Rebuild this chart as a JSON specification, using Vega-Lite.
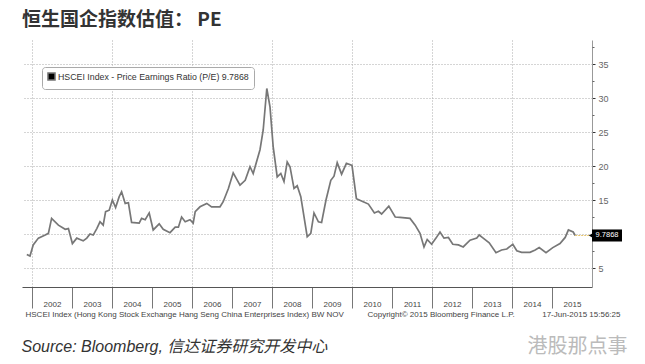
{
  "$schema": "https://vega.github.io/schema/vega-lite/v6.json",
  "autosize": "none",
  "width": 570,
  "height": 247,
  "padding": {"left": 22, "top": 40, "right": 53, "bottom": 77},
  "background": "white",
  "config": {"view": {"stroke": null}},
  "title": {"text": "恒生国企指数估值： PE", "anchor": "start", "font": "Noto Sans CJK SC", "fontSize": 19, "fontWeight": "bold", "color": "#333333", "offset": 10, "frame": "group"},
  "datasets": {
    "pe": [
      {"t": 2001.87, "pe": 7.0}, {"t": 2001.95, "pe": 6.76}, {"t": 2002.03, "pe": 8.4}, {"t": 2002.16, "pe": 9.4},
      {"t": 2002.33, "pe": 9.85}, {"t": 2002.41, "pe": 10.1}, {"t": 2002.49, "pe": 12.3}, {"t": 2002.66, "pe": 11.3},
      {"t": 2002.83, "pe": 10.7}, {"t": 2002.91, "pe": 10.8}, {"t": 2003.01, "pe": 8.6}, {"t": 2003.12, "pe": 9.4},
      {"t": 2003.2, "pe": 9.2}, {"t": 2003.28, "pe": 9.0}, {"t": 2003.37, "pe": 9.4}, {"t": 2003.45, "pe": 10.0},
      {"t": 2003.53, "pe": 9.85}, {"t": 2003.62, "pe": 10.8}, {"t": 2003.7, "pe": 11.8}, {"t": 2003.78, "pe": 11.3},
      {"t": 2003.84, "pe": 13.3}, {"t": 2003.93, "pe": 13.5}, {"t": 2004.01, "pe": 15.0}, {"t": 2004.09, "pe": 13.9},
      {"t": 2004.18, "pe": 15.5}, {"t": 2004.24, "pe": 16.2}, {"t": 2004.33, "pe": 14.5}, {"t": 2004.41, "pe": 14.6},
      {"t": 2004.49, "pe": 11.7}, {"t": 2004.68, "pe": 11.6}, {"t": 2004.74, "pe": 12.3}, {"t": 2004.83, "pe": 12.1},
      {"t": 2004.93, "pe": 13.1}, {"t": 2005.03, "pe": 10.6}, {"t": 2005.18, "pe": 11.5}, {"t": 2005.28, "pe": 10.7},
      {"t": 2005.45, "pe": 10.2}, {"t": 2005.58, "pe": 11.0}, {"t": 2005.66, "pe": 11.0}, {"t": 2005.74, "pe": 12.5},
      {"t": 2005.83, "pe": 11.8}, {"t": 2005.95, "pe": 12.1}, {"t": 2006.03, "pe": 11.6}, {"t": 2006.08, "pe": 13.3},
      {"t": 2006.2, "pe": 14.0}, {"t": 2006.37, "pe": 14.5}, {"t": 2006.49, "pe": 14.0}, {"t": 2006.7, "pe": 14.0},
      {"t": 2006.78, "pe": 14.75}, {"t": 2006.91, "pe": 16.7}, {"t": 2007.03, "pe": 19.0}, {"t": 2007.2, "pe": 17.2},
      {"t": 2007.33, "pe": 17.9}, {"t": 2007.45, "pe": 19.9}, {"t": 2007.53, "pe": 18.9}, {"t": 2007.7, "pe": 22.4},
      {"t": 2007.78, "pe": 25.3}, {"t": 2007.87, "pe": 31.4}, {"t": 2007.95, "pe": 28.7}, {"t": 2008.03, "pe": 22.8},
      {"t": 2008.13, "pe": 18.4}, {"t": 2008.22, "pe": 18.9}, {"t": 2008.3, "pe": 17.7}, {"t": 2008.38, "pe": 20.6},
      {"t": 2008.45, "pe": 19.9}, {"t": 2008.55, "pe": 16.7}, {"t": 2008.63, "pe": 17.1}, {"t": 2008.72, "pe": 15.5},
      {"t": 2008.88, "pe": 9.6}, {"t": 2008.97, "pe": 10.1}, {"t": 2009.05, "pe": 13.1}, {"t": 2009.16, "pe": 11.8},
      {"t": 2009.24, "pe": 11.7}, {"t": 2009.35, "pe": 15.0}, {"t": 2009.47, "pe": 17.9}, {"t": 2009.55, "pe": 18.5},
      {"t": 2009.63, "pe": 20.5}, {"t": 2009.74, "pe": 18.8}, {"t": 2009.86, "pe": 20.4}, {"t": 2010.0, "pe": 20.1},
      {"t": 2010.11, "pe": 15.2}, {"t": 2010.28, "pe": 14.75}, {"t": 2010.41, "pe": 14.4}, {"t": 2010.56, "pe": 13.1},
      {"t": 2010.66, "pe": 13.35}, {"t": 2010.74, "pe": 12.95}, {"t": 2010.92, "pe": 14.1}, {"t": 2011.08, "pe": 12.5},
      {"t": 2011.2, "pe": 12.45}, {"t": 2011.45, "pe": 12.3}, {"t": 2011.58, "pe": 11.3}, {"t": 2011.7, "pe": 10.1},
      {"t": 2011.8, "pe": 8.1}, {"t": 2011.88, "pe": 9.2}, {"t": 2011.99, "pe": 8.5}, {"t": 2012.1, "pe": 9.4},
      {"t": 2012.2, "pe": 10.3}, {"t": 2012.3, "pe": 9.4}, {"t": 2012.41, "pe": 9.5}, {"t": 2012.52, "pe": 8.5},
      {"t": 2012.66, "pe": 8.4}, {"t": 2012.78, "pe": 8.1}, {"t": 2012.95, "pe": 9.1}, {"t": 2013.12, "pe": 9.4},
      {"t": 2013.18, "pe": 9.85}, {"t": 2013.28, "pe": 9.4}, {"t": 2013.43, "pe": 8.7}, {"t": 2013.6, "pe": 7.25},
      {"t": 2013.74, "pe": 7.65}, {"t": 2013.87, "pe": 7.8}, {"t": 2014.02, "pe": 8.5}, {"t": 2014.12, "pe": 7.55},
      {"t": 2014.24, "pe": 7.3}, {"t": 2014.45, "pe": 7.3}, {"t": 2014.58, "pe": 7.65}, {"t": 2014.68, "pe": 8.0},
      {"t": 2014.85, "pe": 7.25}, {"t": 2015.02, "pe": 8.0}, {"t": 2015.2, "pe": 8.6}, {"t": 2015.33, "pe": 9.5},
      {"t": 2015.41, "pe": 10.6}, {"t": 2015.53, "pe": 10.3}, {"t": 2015.58, "pe": 9.7868}
    ],
    "last": [
      {"t0": 2015.58, "t1": 2016.0, "tc": 2016.375, "tp": 2015.99, "v": 9.7868, "lo": 8.9, "hi": 10.67, "label": "9.7868"}
    ]
  },
  "resolve": {"axis": {"x": "independent", "y": "independent"}},
  "layer": [
    {
      "data": {"name": "pe"},
      "transform": [{"calculate": "'HSCEI Index - Price Earnings Ratio (P/E) 9.7868'", "as": "series"}],
      "mark": {"type": "line", "strokeWidth": 1.7},
      "encoding": {
        "x": {"field": "t", "type": "quantitative",
          "scale": {"domain": [2001.75, 2016], "nice": false, "zero": false},
          "axis": {"orient": "bottom", "values": [2002.5, 2003.5, 2004.5, 2005.5, 2006.5, 2007.5, 2008.5, 2009.5, 2010.5, 2011.5, 2012.5, 2013.5, 2014.5, 2015.5],
            "labelExpr": "toString(floor(datum.value))", "ticks": false, "domain": false, "grid": false,
            "labelFont": "Liberation Sans", "labelFontSize": 8, "labelColor": "#444444", "labelBaseline": "middle", "labelPadding": 17,
            "title": "HSCEI Index (Hong Kong Stock Exchange Hang Seng China Enterprises Index) BW NOV",
            "titleX": 3, "titleY": 27, "titleAlign": "left", "titleBaseline": "middle", "titleFont": "Liberation Sans", "titleFontSize": 8, "titleFontWeight": "normal", "titleColor": "#444444"}},
        "y": {"field": "pe", "type": "quantitative",
          "scale": {"domain": [2.21, 38.53], "nice": false, "zero": false},
          "axis": {"orient": "right", "values": [5, 10, 15, 20, 25, 30, 35], "labelExpr": "datum.value == 10 ? '' : datum.label",
            "grid": true, "gridColor": "#aaaaaa", "gridDash": [1, 2], "gridWidth": 1,
            "tickSize": 3, "tickColor": "#333333", "domain": true, "domainColor": "#999999",
            "labelFont": "Liberation Sans", "labelFontSize": 9, "labelColor": "#666666", "labelPadding": 3, "title": null}},
        "color": {"field": "series", "type": "nominal", "scale": {"range": ["#777777"]},
          "legend": {"orient": "none", "legendX": 20, "legendY": 27, "title": null, "symbolType": "square", "symbolSize": 50,
            "labelFont": "Liberation Sans", "labelFontSize": 8.8, "labelColor": "#333333", "labelOffset": 2, "labelLimit": 400,
            "strokeColor": "#aaaaaa", "fillColor": "#ffffff", "padding": 5, "cornerRadius": 3,
            "encode": {"symbols": {"update": {"fill": {"value": "#000000"}, "stroke": {"value": "#000000"}, "opacity": {"value": 1}}}}}}
      }
    },
    {
      "data": {"name": "last"},
      "mark": {"type": "rule", "color": "#e6c46a", "strokeDash": [2, 1], "strokeWidth": 1},
      "encoding": {
        "x": {"field": "t0", "type": "quantitative",
          "scale": {"domain": [2001.75, 2016], "nice": false, "zero": false},
          "axis": {"orient": "bottom", "values": [2002, 2003, 2004, 2005, 2006, 2007, 2008, 2009, 2010, 2011, 2012, 2013, 2014, 2015],
            "labels": false, "ticks": true, "tickSize": 21, "tickColor": "#777777", "domain": true, "domainColor": "#555555", "grid": false,
            "title": "Copyright© 2015 Bloomberg Finance L.P.",
            "titleX": 345, "titleY": 27, "titleAlign": "left", "titleBaseline": "middle", "titleFont": "Liberation Sans", "titleFontSize": 8, "titleFontWeight": "normal", "titleColor": "#444444"}},
        "x2": {"field": "t1"},
        "y": {"field": "v", "type": "quantitative",
          "scale": {"domain": [2.21, 38.53], "nice": false, "zero": false},
          "axis": {"orient": "right", "values": [7.5, 12.5, 17.5, 22.5, 27.5, 32.5, 37.5], "labels": false, "ticks": true, "tickSize": 2, "tickColor": "#666666", "domain": false, "grid": false, "title": null}}
      }
    },
    {
      "data": {"name": "last"},
      "mark": {"type": "rect", "color": "#000000"},
      "encoding": {
        "x": {"field": "t1", "type": "quantitative",
          "scale": {"domain": [2001.75, 2016], "nice": false, "zero": false},
          "axis": {"orient": "top", "values": [2002, 2004, 2006, 2008, 2010, 2012, 2014],
            "labels": false, "ticks": false, "domain": false, "grid": true, "gridColor": "#aaaaaa", "gridDash": [1, 2],
            "title": "17-Jun-2015 15:56:25",
            "titleX": 598, "titleY": 274, "titleAlign": "right", "titleBaseline": "middle", "titleFont": "Liberation Sans", "titleFontSize": 8, "titleFontWeight": "normal", "titleColor": "#444444"}},
        "x2": {"datum": 2016.75},
        "y": {"field": "lo", "type": "quantitative",
          "scale": {"domain": [2.21, 38.53], "nice": false, "zero": false},
          "axis": {"orient": "left", "labels": false, "ticks": false, "domain": false, "grid": false,
            "title": "Source: Bloomberg, 信达证券研究开发中心", "titleAngle": 0, "titleX": -1, "titleY": 306, "titleAlign": "left", "titleBaseline": "middle",
            "titleFont": "Liberation Sans, Noto Sans CJK SC", "titleFontSize": 16, "titleFontStyle": "italic", "titleFontWeight": "normal", "titleColor": "#333333"}},
        "y2": {"field": "hi"}
      }
    },
    {
      "data": {"name": "last"},
      "mark": {"type": "text", "color": "#ffffff", "font": "Liberation Sans", "fontSize": 7.5, "align": "center", "baseline": "middle"},
      "encoding": {
        "x": {"field": "tc", "type": "quantitative", "scale": {"domain": [2001.75, 2016], "nice": false, "zero": false}, "axis": null},
        "y": {"field": "v", "type": "quantitative",
          "scale": {"domain": [2.21, 38.53], "nice": false, "zero": false},
          "axis": {"orient": "left", "labels": false, "ticks": false, "domain": false, "grid": false,
            "title": "港股那点事", "titleAngle": 0, "titleX": 505, "titleY": 306, "titleAlign": "left", "titleBaseline": "middle",
            "titleFont": "Noto Sans CJK SC", "titleFontSize": 20, "titleFontWeight": "normal", "titleColor": "#bbbbbb"}},
        "text": {"field": "label"}
      }
    },
    {
      "data": {"name": "last"},
      "mark": {"type": "point", "shape": "triangle-left", "filled": true, "color": "#000000", "size": 40, "opacity": 1},
      "encoding": {
        "x": {"field": "tp", "type": "quantitative", "scale": {"domain": [2001.75, 2016], "nice": false, "zero": false}, "axis": null},
        "y": {"field": "v", "type": "quantitative", "scale": {"domain": [2.21, 38.53], "nice": false, "zero": false}, "axis": null}
      }
    }
  ]
}
